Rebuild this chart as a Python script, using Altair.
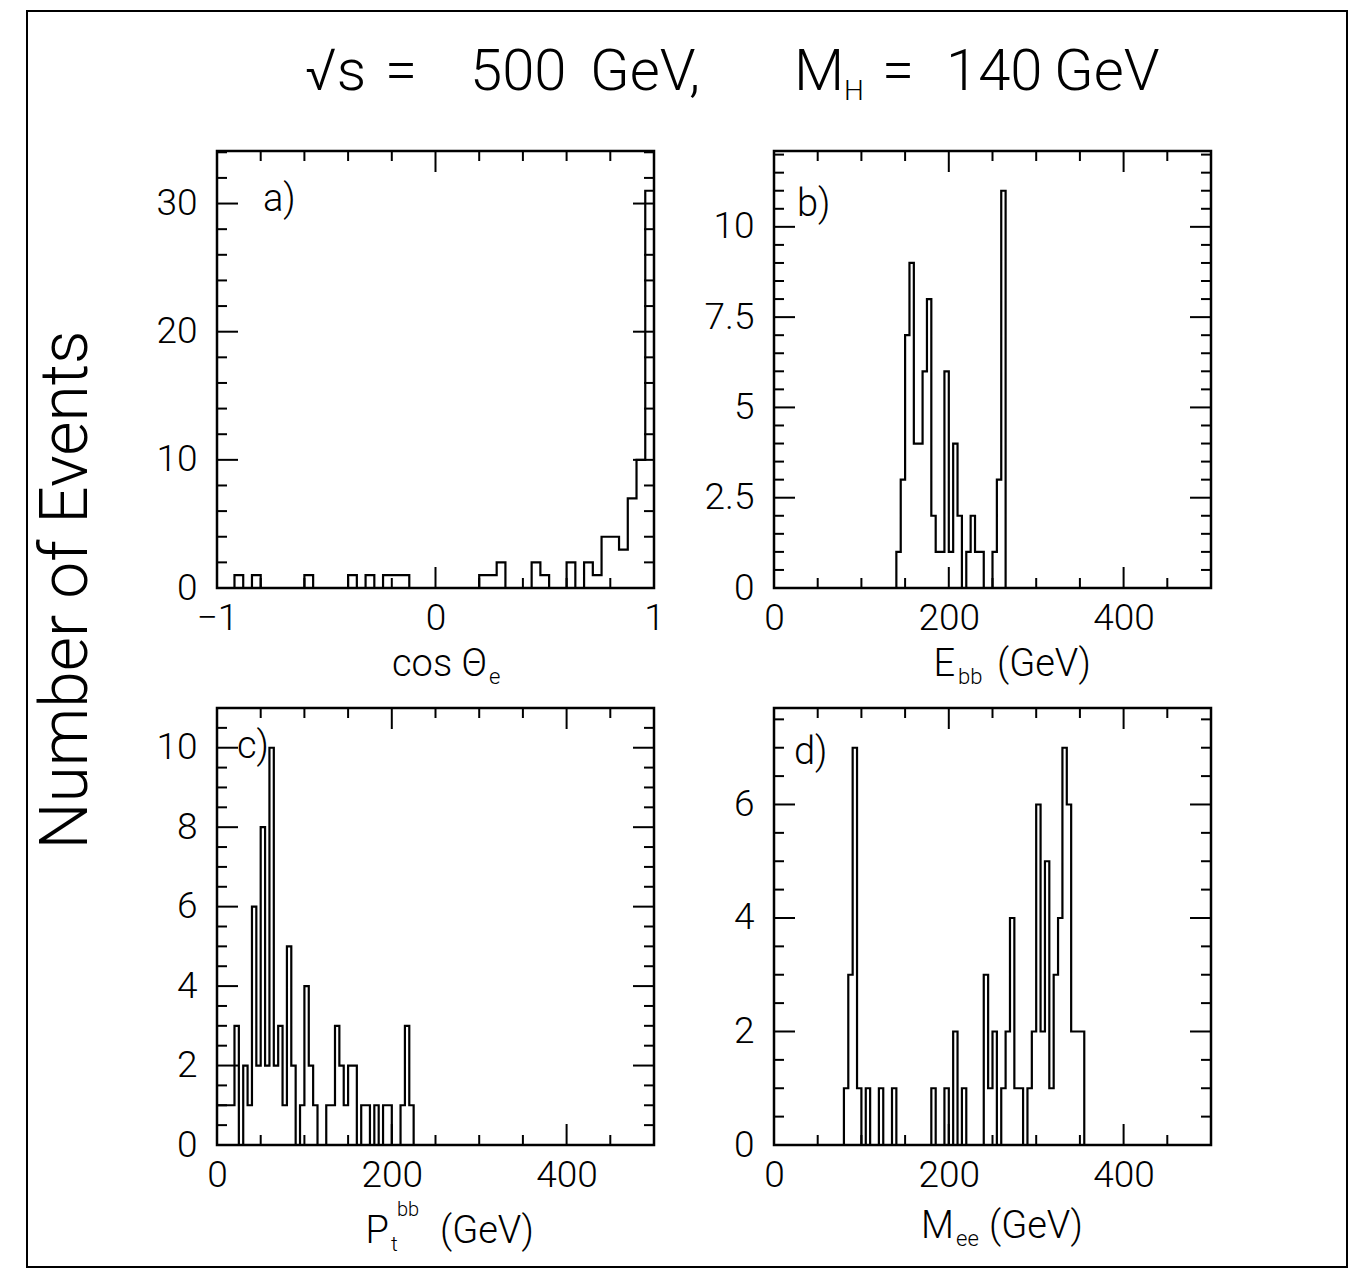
import altair as alt
import pandas as pd

FONT = "Roboto"
FW = 300

# ---------------- data ----------------
# panel a) cos(theta_e), 50 bins of 0.04 from -1 to 1
a_lo, a_width, a_nbins = -1.0, 0.04, 50
a_bin_lo = [-0.92, -0.84, -0.60, -0.40, -0.32, -0.24, -0.20, -0.16, 0.20, 0.24, 0.28,
            0.44, 0.48, 0.60, 0.68, 0.72, 0.76, 0.80, 0.84, 0.88, 0.92, 0.96]
a_counts = [1, 1, 1, 1, 1, 1, 1, 1, 1, 1, 2, 2, 1, 2, 2, 1, 4, 4, 3, 7, 10, 31]

# panel b) E_bb (GeV), 100 bins of 5 GeV
b_lo, b_width, b_nbins = 0.0, 5.0, 100
b_bin_lo = [140, 145, 150, 155, 160, 165, 170, 175, 180, 185, 190, 195, 200, 205, 210,
            220, 225, 230, 235, 250, 255, 260]
b_counts = [1, 3, 7, 9, 4, 4, 6, 8, 2, 1, 1, 6, 1, 4, 2, 1, 2, 1, 1, 1, 3, 11]

# panel c) Pt_bb (GeV)
c_lo, c_width, c_nbins = 0.0, 5.0, 100
c_bin_lo = [0, 5, 10, 15, 20, 30, 35, 40, 45, 50, 55, 60, 65, 70, 75, 80, 85, 95, 100, 105,
            110, 125, 130, 135, 140, 145, 150, 155, 165, 170, 180, 190, 195, 210, 215, 220]
c_counts = [1, 1, 1, 1, 3, 2, 1, 6, 2, 8, 2, 10, 2, 3, 1, 5, 2, 1, 4, 2,
            1, 1, 1, 3, 2, 1, 2, 2, 1, 1, 1, 1, 1, 1, 3, 1]

# panel d) M_ee (GeV)
d_lo, d_width, d_nbins = 0.0, 5.0, 100
d_bin_lo = [80, 85, 90, 95, 105, 120, 135, 180, 195, 205, 215, 240, 245, 250, 260, 265, 270,
            275, 280, 290, 295, 300, 305, 310, 315, 320, 325, 330, 335, 340, 345, 350]
d_counts = [1, 3, 7, 1, 1, 1, 1, 1, 1, 2, 1, 3, 1, 2, 1, 2, 4,
            1, 1, 1, 2, 6, 2, 5, 1, 3, 4, 7, 6, 2, 2, 2]

# axis ranges and tick labels
a_xdomain, a_ydomain = [-1, 1], [0, 34.1]
b_xdomain, b_ydomain = [0, 500], [0, 12.1]
c_xdomain, c_ydomain = [0, 500], [0, 11.0]
d_xdomain, d_ydomain = [0, 500], [0, 7.7]
a_xlabels, a_ylabels = [-1, 0, 1], [0, 10, 20, 30]
b_xlabels, b_ylabels = [0, 200, 400], [0, 2.5, 5, 7.5, 10]
c_xlabels, c_ylabels = [0, 200, 400], [0, 2, 4, 6, 8, 10]
d_xlabels, d_ylabels = [0, 200, 400], [0, 2, 4, 6]
a_xminor_step, a_yminor_step = 0.2, 2
bcd_xminor_step, bcd_yminor_step = 50, 0.5

# ---------------- layout ----------------
W = H = 437
MAJ, MIN = 21, 10
ORIGIN = {"a": (215, 149), "b": (772, 149), "c": (215, 706), "d": (772, 706)}
# where each panel sits in the reference picture (texts follow their panel)
REF_ORIGIN = {"a": (207, 155), "b": (765, 143), "c": (223, 712), "d": (780, 700)}


def step_table(lo, width, nbins, bin_lo, counts):
    full = [0] * nbins
    for b, c in zip(bin_lo, counts):
        full[int(round((b - lo) / width))] = c
    xs = [lo + i * width for i in range(nbins)] + [lo + nbins * width]
    ns = full + [full[-1]]
    return pd.DataFrame({"x": xs, "n": ns})


def minor_ticks(dom, step, majors):
    vals = []
    k = 1
    while True:
        v = round(dom[0] + k * step, 6)
        if v >= dom[1] - 1e-9:
            break
        if all(abs(v - m) > 1e-9 for m in majors):
            vals.append(v)
        k += 1
    return vals


def text_layer(s, x, y, size, origin, shift=(0, 0), align="left", baseline="alphabetic", angle=0):
    ox, oy = origin
    return alt.Chart(pd.DataFrame({"t": [s]})).mark_text(
        font=FONT, fontWeight=FW, fontSize=size, color="black",
        align=align, baseline=baseline, angle=angle
    ).encode(text="t:N", x=alt.value(x + shift[0] - ox), y=alt.value(y + shift[1] - oy))


def panel(key, df, xdom, ydom, xlab, ylab, xstep, ystep, texts, fixed_texts=(), extra=()):
    origin = ORIGIN[key]
    shift = (ORIGIN[key][0] - REF_ORIGIN[key][0], ORIGIN[key][1] - REF_ORIGIN[key][1])
    xs = alt.Scale(domain=xdom, nice=False, zero=False)
    ys = alt.Scale(domain=ydom, nice=False, zero=False)
    common = dict(format=".3~r", ticks=False, domain=False, grid=False, title=None,
                  labelOverlap=False, labelFont=FONT, labelFontWeight=FW,
                  labelFontSize=37, labelColor="black")
    xax = alt.Axis(values=xlab, labelFlush=False, labelPadding=12, **common)
    yax = alt.Axis(values=ylab, labelPadding=20, **common)
    layers = [alt.Chart(df).mark_line(interpolate="step-after", color="black", strokeWidth=2.2)
              .encode(x=alt.X("x:Q", scale=xs, axis=xax), y=alt.Y("n:Q", scale=ys, axis=yax))]
    xmaj = [v for v in xlab]
    ymaj = [v for v in ylab]
    xmin = minor_ticks(xdom, xstep, xmaj)
    ymin = minor_ticks(ydom, ystep, ymaj)
    for vals, L in ((xmaj, MAJ), (xmin, MIN)):
        d = pd.DataFrame({"v": vals})
        base = alt.Chart(d).mark_rule(color="black", strokeWidth=2)
        layers.append(base.encode(x=alt.X("v:Q", scale=xs, axis=xax), y=alt.value(H), y2=alt.value(H - L)))
        layers.append(base.encode(x=alt.X("v:Q", scale=xs, axis=xax), y=alt.value(0), y2=alt.value(L)))
    for vals, L in ((ymaj, MAJ), (ymin, MIN)):
        d = pd.DataFrame({"v": vals})
        base = alt.Chart(d).mark_rule(color="black", strokeWidth=2)
        layers.append(base.encode(y=alt.Y("v:Q", scale=ys, axis=yax), x=alt.value(0), x2=alt.value(L)))
        layers.append(base.encode(y=alt.Y("v:Q", scale=ys, axis=yax), x=alt.value(W), x2=alt.value(W - L)))
    for t in texts:
        opts = t[4] if len(t) > 4 else {}
        layers.append(text_layer(t[0], t[1], t[2], t[3], origin, shift=shift, **opts))
    for t in fixed_texts:
        opts = t[4] if len(t) > 4 else {}
        layers.append(text_layer(t[0], t[1], t[2], t[3], origin, **opts))
    layers.extend(extra)
    return alt.layer(*layers).properties(width=W, height=H)


# page border (decorative frame of the scanned figure)
oa = ORIGIN["a"]
border = alt.Chart(pd.DataFrame({"k": [0]})).mark_rect(
    fillOpacity=0, stroke="black", strokeWidth=2
).encode(x=alt.value(25 - oa[0]), x2=alt.value(1345 - oa[0]),
         y=alt.value(9 - oa[1]), y2=alt.value(1265 - oa[1]))

page_texts = [
    # figure title
    ("√s", 303, 88, 58), ("=", 383, 88, 58), ("500", 468, 88, 58), ("GeV,", 588, 88, 58),
    ("M", 792, 88, 58), ("H", 842, 98, 28), ("=", 880, 88, 58),
    ("140", 944, 88, 58), ("GeV", 1052, 88, 58),
    # common y title
    ("Number of Events", 85, 588, 66, dict(align="center", angle=270)),
]
a_texts = [
    ("a)", 253, 215, 38),
    ("cos Θ", 477, 680, 38, dict(align="right")), ("e", 479, 688, 22),
]
b_texts = [
    ("b)", 788, 208, 38),
    ("E", 946, 668, 38, dict(align="right")), ("bb", 949, 676, 22), ("(GeV)", 988, 668, 38),
]
c_texts = [
    ("c)", 243, 762, 38),
    ("P", 395, 1247, 38, dict(align="right")), ("t", 397, 1255, 21), ("bb", 403, 1220, 20),
    ("(GeV)", 446, 1247, 38),
]
d_texts = [
    ("d)", 800, 756, 38),
    ("M", 960, 1230, 38, dict(align="right")), ("ee", 962, 1238, 22), ("(GeV)", 995, 1230, 38),
]

pa = panel("a", step_table(a_lo, a_width, a_nbins, a_bin_lo, a_counts), a_xdomain, a_ydomain,
           a_xlabels, a_ylabels, a_xminor_step, a_yminor_step, a_texts,
           fixed_texts=page_texts, extra=[border])
pb = panel("b", step_table(b_lo, b_width, b_nbins, b_bin_lo, b_counts), b_xdomain, b_ydomain,
           b_xlabels, b_ylabels, bcd_xminor_step, bcd_yminor_step, b_texts)
pc = panel("c", step_table(c_lo, c_width, c_nbins, c_bin_lo, c_counts), c_xdomain, c_ydomain,
           c_xlabels, c_ylabels, bcd_xminor_step, bcd_yminor_step, c_texts)
pd_ = panel("d", step_table(d_lo, d_width, d_nbins, d_bin_lo, d_counts), d_xdomain, d_ydomain,
            d_xlabels, d_ylabels, bcd_xminor_step, bcd_yminor_step, d_texts)

chart = alt.concat(pa, pb, pc, pd_, columns=2, spacing=120, bounds="flush").properties(
    padding={"left": 24, "top": 8, "right": 4, "bottom": 4}
).configure_view(stroke="black", strokeWidth=2.5)

chart.save("out.html", embed_options={"renderer": "svg", "actions": False})
